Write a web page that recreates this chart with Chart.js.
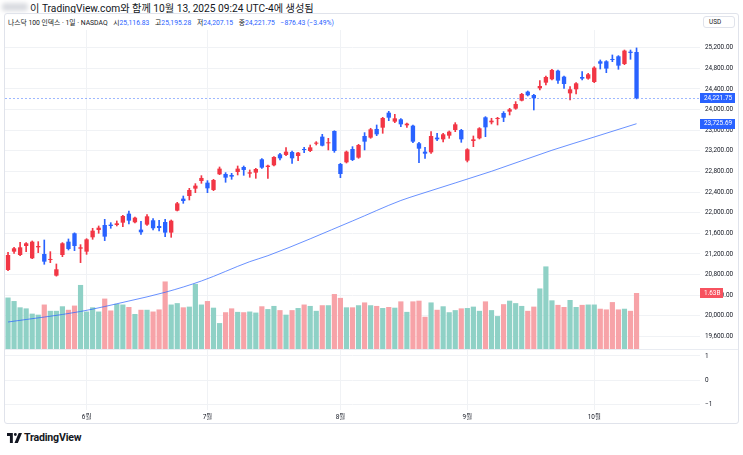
<!DOCTYPE html>
<html lang="ko">
<head>
<meta charset="utf-8">
<script src="https://cdn.jsdelivr.net/npm/chart.js@4.4.1/dist/chart.umd.min.js"></script>
<style>
  body { margin: 0; background: #fff; font-family: Roboto, 'Noto Sans CJK KR', sans-serif; color: #131722; }
  #wrap { position: relative; width: 743px; height: 455px; overflow: hidden; background: #fff; }
  .frame { position: absolute; left: 4px; top: 13px; width: 735px; height: 411px; border: 1px solid #E0E3EB; border-radius: 3px; box-sizing: border-box; }
  .sep { position: absolute; left: 5px; width: 733px; height: 1px; background: #E9ECF2; }
  #cvA { position: absolute; left: 0; top: 30px; }
  #cvB { position: absolute; left: 0; top: 350px; }
  .head1 { position: absolute; left: 30px; top: 0px; font-size: 10.2px; white-space: nowrap; }
  .blur { position: absolute; left: 2px; top: 3px; width: 26px; height: 8px; background: #d9dbe0; filter: blur(2px); border-radius: 3px; }
  .head2 { position: absolute; left: 8px; top: 17px; font-size: 6.8px; white-space: nowrap; }
  .head2 b { font-weight: normal; color: #2962FF; }
  .head2 .g { margin-left: 4px; }
  .usd { position: absolute; left: 703px; top: 16px; width: 32px; height: 12px; border: 1px solid #E0E3EB; border-radius: 3px; box-sizing: border-box; font-size: 6.4px; line-height: 10px; padding-left: 5px; }
  .logo { position: absolute; left: 7px; top: 431px; font-size: 10.6px; font-weight: 700; white-space: nowrap; }
  .logo svg { position: absolute; left: 0; top: 2px; }
  .logo span { position: absolute; left: 17px; top: 0; letter-spacing: -0.2px; }
</style>
</head>
<body>
<div id="wrap">
  <div class="blur"></div>
  <div class="head1">이 TradingView.com와 함께 10월 13, 2025 09:24 UTC-4에 생성됨</div>
  <div class="frame"></div>
  <div class="head2">나스닥 100 인덱스 · 1일 · NASDAQ <span class="g">시</span><b>25,116.83</b> <span class="g">고</span><b>25,195.28</b> <span class="g">저</span><b>24,207.15</b> <span class="g">종</span><b>24,221.75</b> <b class="g">−876.43 (−3.49%)</b></div>
  <div class="usd">USD</div>
  <canvas id="cvA" width="743" height="320"></canvas>
  <div class="sep" style="top:349px"></div>
  <canvas id="cvB" width="743" height="74"></canvas>
  <div class="logo">
    <svg width="15" height="10" viewBox="0 0 36 24"><path d="M0 0h14v24H7V7H0z M20 0a3.5 3.5 0 1 1 0 7a3.5 3.5 0 0 1 0-7z M28 0h8L26 24h-8z" fill="#131722"/></svg>
    <span>TradingView</span>
  </div>
</div>
<script>
// === 데이터 ===
const dates = [
  '05-13','05-14','05-15','05-16','05-19','05-20','05-21','05-22','05-23','05-27','05-28','05-29','05-30',
  '06-02','06-03','06-04','06-05','06-06','06-09','06-10','06-11','06-12','06-13','06-16','06-17','06-18','06-20','06-23','06-24','06-25','06-26','06-27','06-30',
  '07-01','07-02','07-03','07-07','07-08','07-09','07-10','07-11','07-14','07-15','07-16','07-17','07-18','07-21','07-22','07-23','07-24','07-25','07-28','07-29','07-30','07-31',
  '08-01','08-04','08-05','08-06','08-07','08-08','08-11','08-12','08-13','08-14','08-15','08-18','08-19','08-20','08-21','08-22','08-25','08-26','08-27','08-28','08-29',
  '09-02','09-03','09-04','09-05','09-08','09-09','09-10','09-11','09-12','09-15','09-16','09-17','09-18','09-19','09-22','09-23','09-24','09-25','09-26','09-29','09-30',
  '10-01','10-02','10-03','10-06','10-07','10-08','10-09','10-10'
];
const open = [
  20889,21245,21180,21355,21116,21329,21200,21084,20780,21180,21439,21601,21303,
  21245,21523,21665,21762,21769,21762,21807,21982,21814,21672,21769,21853,21743,21820,21614,22040,22273,22324,22467,22615,
  22583,22441,22745,22751,22732,22790,22887,22758,22777,23036,22887,22919,23132,23120,23178,23100,23229,23197,23339,23475,23346,23585,
  22945,22977,23236,23068,23488,23456,23624,23649,23940,23766,23811,23695,23688,23346,23184,23171,23456,23423,23494,23604,23604,
  23010,23391,23443,23850,23753,23818,23934,23960,24018,24173,24348,24283,24412,24522,24587,24755,24638,24315,24393,24632,24600,
  24535,24936,24936,24975,25033,24884,25123,25116.83
];
const high = [
  21232,21329,21426,21420,21452,21439,21471,21245,21006,21420,21491,21610,21381,
  21497,21698,21743,21872,21807,21840,21950,22034,21917,21833,21963,21885,21853,21872,21859,22202,22324,22473,22564,22719,
  22622,22648,22887,22777,22764,22906,22906,22829,22861,23049,22926,23087,23152,23262,23197,23172,23268,23313,23378,23520,23443,23590,
  22958,23197,23281,23326,23553,23637,23701,23850,23966,23908,23824,23740,23701,23365,23268,23572,23540,23540,23585,23746,23617,
  23242,23488,23650,23863,23831,23850,23960,24024,24154,24315,24360,24296,24561,24651,24781,24768,24651,24445,24522,24735,24703,
  24832,24962,24949,25059,25046,25155,25155,25195.28
];
const low = [
  20877,21213,21168,21245,21109,21226,21000,21032,20770,21148,21277,21265,21032,
  21193,21484,21601,21459,21698,21743,21730,21782,21801,21581,21756,21665,21646,21536,21523,22034,22182,22247,22389,22570,
  22389,22428,22738,22590,22648,22732,22725,22687,22667,22861,22667,22906,23023,23107,22958,23010,23165,23184,23313,23294,23217,23171,
  22680,22964,23010,23055,23217,23443,23494,23540,23785,23746,23669,23656,23359,22971,23055,23152,23397,23372,23443,23572,23365,
  22984,23281,23430,23475,23721,23701,23766,23895,24005,24167,24264,23992,24380,24477,24574,24509,24412,24186,24302,24574,24587,
  24522,24787,24716,24929,24781,24871,24975,24207.15
];
const close = [
  21180,21310,21329,21407,21439,21355,21051,21103,20903,21407,21297,21355,21329,
  21484,21652,21710,21536,21743,21794,21937,21846,21904,21620,21930,21698,21704,21614,21846,22182,22227,22441,22525,22674,
  22473,22635,22855,22680,22700,22855,22829,22783,22848,22874,22913,23081,23055,23184,23055,23165,23216,23268,23359,23300,23359,23197,
  22751,23184,23023,23313,23378,23617,23520,23837,23843,23830,23714,23727,23378,23242,23145,23488,23423,23520,23572,23714,23423,
  23229,23423,23637,23656,23785,23837,23843,24005,24108,24302,24277,24218,24457,24632,24768,24561,24496,24393,24509,24600,24684,
  24813,24890,24794,24962,24852,25143,25098,24221.75
];
// 거래량 (단위: B)
const volume = [
  1.50,1.40,1.22,1.19,1.04,1.01,1.30,1.12,1.12,1.25,1.15,1.27,1.86,
  1.10,1.22,1.10,1.47,1.13,1.32,1.30,1.23,1.03,1.15,1.15,1.10,1.16,1.96,1.30,1.34,1.22,1.24,1.89,1.30,
  1.40,1.21,0.77,1.08,1.19,1.09,1.08,1.10,1.07,1.25,1.17,1.26,1.14,1.01,1.14,1.20,1.30,1.26,1.12,1.28,1.28,1.60,
  1.49,1.22,1.22,1.28,1.36,1.28,1.26,1.20,1.23,1.21,1.39,1.09,1.39,1.41,0.95,1.36,1.15,1.25,1.08,1.14,1.19,
  1.20,1.24,1.12,1.39,1.14,0.97,1.31,1.41,1.34,1.26,1.12,1.24,1.76,2.39,1.42,1.29,1.23,1.43,1.23,1.29,1.30,
  1.30,1.18,1.16,1.37,1.16,1.18,1.12,1.63
];
// 이동평균선 (읽은 지점)
const maIdx = [0, 12, 20, 26, 32, 40, 43, 57, 65, 68, 80, 90, 97, 104];
const maVal = [19881, 20085, 20288, 20457, 20676, 21051, 21167, 21840, 22237, 22354, 22803, 23211, 23468, 23725.69];
const priceTicks = { min: 19338, max: 25543, step: 400 };
const paneTicks = { min: -1.25, max: 1.25, step: 1 };
const emptySlots = 10;

// === 색상 ===
const upColor = '#F23645';
const downColor = '#2962FF';
const volUp = '#8FD1C6';
const volDown = '#F7A3A8';
const maColor = 'rgba(41, 98, 255, 0.7)';
const gridColor = '#F0F2F5';
const textColor = '#131722';
const tickFont = { family: "Roboto, 'Noto Sans CJK KR', sans-serif", size: 6.4 };

const labels = dates.concat(Array(emptySlots).fill(''));
const isUp = close.map((c, i) => c >= open[i]);
const candleColors = isUp.map(u => u ? upColor : downColor);
const volColors = isUp.map(u => u ? volUp : volDown);
const bodies = open.map((o, i) => [o, close[i]]);
const wicks = low.map((l, i) => [l, high[i]]);
const maSeries = labels.map(() => null);
maIdx.forEach((idx, k) => { maSeries[idx] = maVal[k]; });

// 월이 바뀌는 첫 거래일에만 라벨 (첫 칸 제외)
function monthLabel(i) {
  const d = dates[i];
  if (!d || i === 0) return '';
  const m = d.slice(0, 2);
  if (dates[i - 1].slice(0, 2) === m) return '';
  return parseInt(m, 10) + '월';
}
const monthGrid = ctx => (ctx.index !== undefined && monthLabel(ctx.index) !== '') ? gridColor : 'rgba(0,0,0,0)';
const fmtPrice = v => v.toLocaleString('en-US', { minimumFractionDigits: 2, maximumFractionDigits: 2 });
// 축 라벨이 차트 영역을 줄이지 않도록
const fixRightAxis = s => { s.width = 43; s.paddingTop = 0; s.paddingBottom = 0; };

function tag(c, y, text, bg, w) {
  c.fillStyle = bg;
  c.fillRect(700, Math.round(y - 5), w, 10);
  c.fillStyle = '#fff';
  c.font = '6.4px Roboto, sans-serif';
  c.textBaseline = 'middle';
  c.textAlign = 'left';
  c.fillText(text, 704, y);
}

const overlay = {
  id: 'overlay',
  afterDraw(chart) {
    const c = chart.ctx;
    const y = chart.scales.y;
    const yv = chart.scales.yv;
    const area = chart.chartArea;
    const lastClose = close[close.length - 1];
    const py = y.getPixelForValue(lastClose);
    c.save();
    c.strokeStyle = 'rgba(41, 98, 255, 0.45)';
    c.setLineDash([2, 2]);
    c.lineWidth = 1;
    c.beginPath();
    c.moveTo(area.left, Math.round(py) + 0.5);
    c.lineTo(area.right, Math.round(py) + 0.5);
    c.stroke();
    c.setLineDash([]);
    tag(c, py, fmtPrice(lastClose), downColor, 35);
    tag(c, y.getPixelForValue(maVal[maVal.length - 1]), fmtPrice(maVal[maVal.length - 1]), '#2962FF', 35);
    const lastVol = volume[volume.length - 1];
    tag(c, yv.getPixelForValue(lastVol), lastVol.toFixed(2) + 'B', '#F7525F', 23);
    c.restore();
  }
};

// === 메인 패널: 캔들 + 거래량 + 이동평균 ===
new Chart(document.getElementById('cvA'), {
  type: 'bar',
  data: {
    labels: labels,
    datasets: [
      { label: 'body', data: bodies, backgroundColor: candleColors, grouped: false, barPercentage: 0.72, categoryPercentage: 1, minBarLength: 1, order: 0, yAxisID: 'y' },
      { label: 'wick', data: wicks, backgroundColor: candleColors, grouped: false, barThickness: 1, order: 1, yAxisID: 'y' },
      { type: 'line', label: 'MA', data: maSeries, borderColor: maColor, borderWidth: 1, pointRadius: 0, spanGaps: true, cubicInterpolationMode: 'monotone', order: 2, yAxisID: 'y' },
      { label: 'vol', data: volume, backgroundColor: volColors, grouped: false, barPercentage: 0.86, categoryPercentage: 1, order: 3, yAxisID: 'yv' }
    ]
  },
  options: {
    responsive: false, animation: false,
    layout: { padding: { left: 5, right: 0, top: 0, bottom: 0 } },
    plugins: { legend: { display: false }, tooltip: { enabled: false } },
    scales: {
      x: {
        offset: true,
        grid: { offset: false, drawTicks: false, color: monthGrid },
        ticks: { display: false, autoSkip: false },
        border: { display: false },
        afterFit: s => { s.height = 0; s.paddingLeft = 0; s.paddingRight = 0; }
      },
      y: {
        position: 'right', min: priceTicks.min, max: priceTicks.max,
        ticks: { stepSize: priceTicks.step, includeBounds: false, callback: v => fmtPrice(v), color: textColor, font: tickFont, padding: 5 },
        grid: { color: gridColor, drawTicks: false },
        border: { display: false },
        afterFit: fixRightAxis
      },
      yv: { display: false, min: 0, max: 9.15 }
    }
  },
  plugins: [overlay]
});

// === 하단 패널 + 시간축 ===
new Chart(document.getElementById('cvB'), {
  type: 'bar',
  data: { labels: labels, datasets: [{ data: [] }] },
  options: {
    responsive: false, animation: false,
    layout: { padding: { left: 5, right: 0, top: 0, bottom: 0 } },
    plugins: { legend: { display: false }, tooltip: { enabled: false } },
    scales: {
      x: {
        offset: true,
        grid: { offset: false, drawTicks: false, color: monthGrid },
        ticks: { autoSkip: false, maxRotation: 0, callback: (v, i) => monthLabel(i), color: textColor, font: tickFont, padding: 4 },
        border: { display: false },
        afterFit: s => { s.height = 14; s.paddingLeft = 0; s.paddingRight = 0; }
      },
      y: {
        position: 'right', min: paneTicks.min, max: paneTicks.max,
        ticks: { stepSize: paneTicks.step, includeBounds: false, callback: v => v < 0 ? '−' + Math.abs(v) : String(v), color: textColor, font: tickFont, padding: 5 },
        grid: { color: gridColor, drawTicks: false },
        border: { display: false },
        afterFit: fixRightAxis
      }
    }
  }
});
</script>
</body>
</html>
